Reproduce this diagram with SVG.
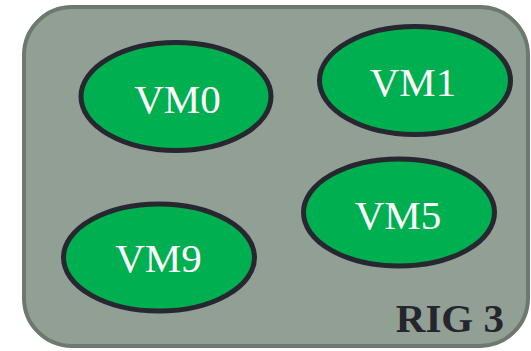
<svg xmlns="http://www.w3.org/2000/svg" width="531" height="351" viewBox="0 0 531 351">
  <style>
    .rig { fill: #919f95; stroke: #6d786f; stroke-width: 4; }
    .vm { fill: #00af50; stroke: #272730; stroke-width: 5; }
    .vm-label { font-family: "Liberation Serif", "Times New Roman", serif; font-size: 41px; fill: #ffffff; text-anchor: middle; }
    .rig-label { font-family: "Liberation Serif", "Times New Roman", serif; font-size: 41px; font-weight: bold; fill: #25252e; text-anchor: end; }
  </style>
  <g id="rig3">
    <rect class="rig" x="24" y="7" width="504" height="339" rx="48" ry="48"/>
    <text class="rig-label" x="504" y="332">RIG 3</text>
  </g>
  <g id="connectors"/>
  <g id="vm0">
    <ellipse class="vm" cx="176" cy="96.5" rx="95" ry="54"/>
    <text class="vm-label" x="177.5" y="113">VM0</text>
  </g>
  <g id="vm1">
    <ellipse class="vm" cx="415" cy="80.5" rx="95.5" ry="54"/>
    <text class="vm-label" x="413" y="96">VM1</text>
  </g>
  <g id="vm5">
    <ellipse class="vm" cx="399" cy="212.5" rx="95.5" ry="53.5"/>
    <text class="vm-label" x="398" y="229">VM5</text>
  </g>
  <g id="vm9">
    <ellipse class="vm" cx="159" cy="257.5" rx="95.5" ry="53.5"/>
    <text class="vm-label" x="158.5" y="272">VM9</text>
  </g>
</svg>
